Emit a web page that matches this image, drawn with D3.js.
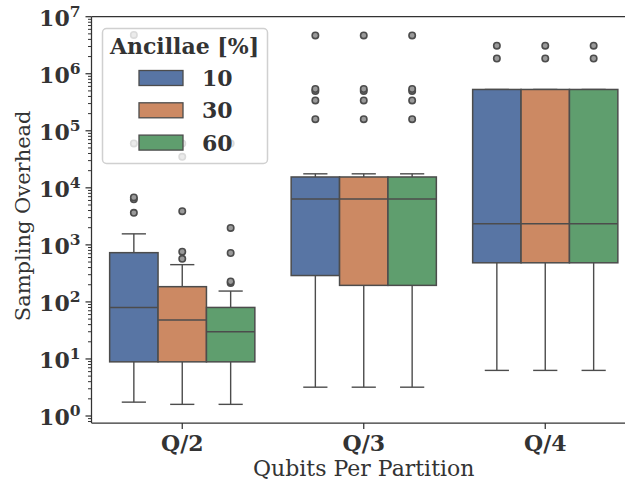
<!DOCTYPE html>
<html>
<head>
<meta charset="utf-8">
<script src="https://cdn.jsdelivr.net/npm/d3@7"></script>
<style>
  html, body { margin: 0; padding: 0; background: #fff; }
  svg { display: block; }
</style>
</head>
<body>
<svg id="chart" width="625" height="481"></svg>
<script>
// Partition sizes on the x axis and ancilla percentages as hue groups
const categories = ["Q/2", "Q/3", "Q/4"];
const ancillae = ["10", "30", "60"];
const palette = ["#5875a4", "#cc8963", "#5f9e6e"];

// Box statistics per category, one entry per ancilla group:
// [lower whisker, Q1, median, Q3, upper whisker]
const statsQ2 = [
  [1.75, 8.9, 80, 730, 1560],
  [1.6, 8.9, 48, 185, 450],
  [1.6, 8.9, 30, 80, 155]
];
const statsQ3 = [
  [3.2, 290, 6350, 15500, 17600],
  [3.2, 195, 6350, 15500, 17600],
  [3.2, 195, 6350, 15500, 17600]
];
const statsQ4 = [
  [6.3, 485, 2340, 530000, 530000],
  [6.3, 485, 2340, 530000, 530000],
  [6.3, 485, 2340, 530000, 530000]
];

// Outlying samples per category and group
const outliersQ2 = [
  [3650, 6300, 6800, 60000, 4800000],
  [570, 760, 3900, 35000, 60000],
  [215, 228, 720, 1980, 60000]
];
const outliersQ3 = [
  [160000, 340000, 500000, 540000, 4700000],
  [160000, 340000, 500000, 540000, 4700000],
  [160000, 340000, 500000, 540000, 4700000]
];
const outliersQ4 = [
  [1850000, 3100000],
  [1850000, 3100000],
  [1850000, 3100000]
];

const yTickExponents = [0, 1, 2, 3, 4, 5, 6, 7];
const xTitle = "Qubits Per Partition";
const yTitle = "Sampling Overhead";
const legendTitle = "Ancillae [%]";

const stats = [statsQ2, statsQ3, statsQ4];
const outliers = [outliersQ2, outliersQ3, outliersQ4];

const serif = "'DejaVu Serif', serif";
const ink = "#333333";
const lineGray = "#4c4c4c";

const svg = d3.select("#chart");
const plotLeft = 91.5, plotRight = 636, plotTop = 16.7, plotBottom = 423;

const x = d3.scaleBand().domain(categories).range([plotLeft, plotRight]);
const hue = d3.scaleBand().domain(ancillae).range([0, x.bandwidth() * 0.8]);
const groupOffset = x.bandwidth() * 0.1;
const y = d3.scaleLog().domain([Math.pow(10, -0.1227), 1e7]).range([plotBottom, plotTop]);

// Boxes, whiskers, medians, fliers
const g = svg.append("g");
categories.forEach((cat, ci) => {
  ancillae.forEach((anc, ai) => {
    const [lo, q1, med, q3, hi] = stats[ci][ai];
    const x0 = x(cat) + groupOffset + hue(anc);
    const w = hue.bandwidth();
    const cx = x0 + w / 2;
    const capW = w / 2;
    const grp = g.append("g");
    // whiskers
    grp.append("line").attr("x1", cx).attr("x2", cx).attr("y1", y(q1)).attr("y2", y(lo))
      .attr("stroke", lineGray).attr("stroke-width", 1.4);
    grp.append("line").attr("x1", cx).attr("x2", cx).attr("y1", y(q3)).attr("y2", y(hi))
      .attr("stroke", lineGray).attr("stroke-width", 1.4);
    grp.append("line").attr("x1", cx - capW / 2).attr("x2", cx + capW / 2).attr("y1", y(lo)).attr("y2", y(lo))
      .attr("stroke", lineGray).attr("stroke-width", 1.4);
    grp.append("line").attr("x1", cx - capW / 2).attr("x2", cx + capW / 2).attr("y1", y(hi)).attr("y2", y(hi))
      .attr("stroke", lineGray).attr("stroke-width", 1.4);
    // box
    grp.append("rect").attr("x", x0).attr("y", y(q3)).attr("width", w).attr("height", y(q1) - y(q3))
      .attr("fill", palette[ai]).attr("stroke", lineGray).attr("stroke-width", 1.5);
    // median
    grp.append("line").attr("x1", x0).attr("x2", x0 + w).attr("y1", y(med)).attr("y2", y(med))
      .attr("stroke", lineGray).attr("stroke-width", 1.5);
    // fliers
    grp.selectAll("circle").data(outliers[ci][ai]).join("circle")
      .attr("cx", cx).attr("cy", d => y(d)).attr("r", 3.2)
      .attr("fill", "#9a9a9a").attr("stroke", lineGray).attr("stroke-width", 1.6);
  });
});

// Spines
const spines = svg.append("g").attr("stroke", ink).attr("stroke-width", 1.25).attr("fill", "none");
spines.append("line").attr("x1", plotLeft).attr("x2", plotLeft).attr("y1", plotTop).attr("y2", plotBottom);
spines.append("line").attr("x1", plotLeft).attr("x2", plotRight).attr("y1", plotBottom).attr("y2", plotBottom);
spines.append("line").attr("x1", plotLeft).attr("x2", plotRight).attr("y1", plotTop).attr("y2", plotTop);
spines.append("line").attr("x1", plotRight).attr("x2", plotRight).attr("y1", plotTop).attr("y2", plotBottom);

// Y axis: major ticks with 10^n labels, minor ticks at 2..9 per decade
const yAxisG = svg.append("g");
const [dLo, dHi] = y.domain();
for (let e = -1; e <= 7; e++) {
  for (let m = 2; m <= 9; m++) {
    const v = m * Math.pow(10, e);
    if (v < dLo || v > dHi) continue;
    yAxisG.append("line").attr("x1", plotLeft).attr("x2", plotLeft - 3.5)
      .attr("y1", y(v)).attr("y2", y(v)).attr("stroke", ink).attr("stroke-width", 1);
  }
}
yTickExponents.forEach(e => {
  const v = Math.pow(10, e);
  const ty = y(v);
  yAxisG.append("line").attr("x1", plotLeft).attr("x2", plotLeft - 6)
    .attr("y1", ty).attr("y2", ty).attr("stroke", ink).attr("stroke-width", 1.25);
  const t = yAxisG.append("text")
    .attr("x", 80.5).attr("y", ty + 9)
    .attr("text-anchor", "end")
    .attr("font-family", serif).attr("font-weight", "bold").attr("fill", ink);
  t.append("tspan").attr("font-size", "22px").text("10");
  t.append("tspan").attr("font-size", "15.5px").attr("dy", -9).text(String(e));
});

// X axis ticks and labels
const xAxisG = svg.append("g");
categories.forEach(cat => {
  const cx = x(cat) + x.bandwidth() / 2;
  xAxisG.append("line").attr("x1", cx).attr("x2", cx).attr("y1", plotBottom).attr("y2", plotBottom + 6)
    .attr("stroke", ink).attr("stroke-width", 1.25);
  xAxisG.append("text").attr("x", cx).attr("y", 450.5)
    .attr("text-anchor", "middle").attr("font-family", serif).attr("font-weight", "bold")
    .attr("font-size", "22px").attr("fill", ink).text(cat);
});

// Axis titles
svg.append("text").attr("x", (plotLeft + plotRight) / 2).attr("y", 476)
  .attr("text-anchor", "middle").attr("font-family", serif).attr("font-size", "22px")
  .attr("fill", ink).text(xTitle);
svg.append("text").attr("transform", `translate(30,${(plotTop + plotBottom) / 2 - 4}) rotate(-90)`)
  .attr("text-anchor", "middle").attr("font-family", serif).attr("font-size", "21px")
  .attr("fill", ink).text(yTitle);

// Legend
const legend = svg.append("g");
legend.append("rect").attr("x", 102.5).attr("y", 28.5).attr("width", 165).attr("height", 135)
  .attr("rx", 4).attr("fill", "#ffffff").attr("fill-opacity", 0.8)
  .attr("stroke", "#d0d0d0").attr("stroke-width", 1.5);
legend.append("text").attr("x", 184.5).attr("y", 54)
  .attr("text-anchor", "middle").attr("font-family", serif).attr("font-weight", "bold")
  .attr("font-size", "22px").attr("fill", ink).text(legendTitle);
ancillae.forEach((anc, i) => {
  const cy = 78 + i * 32.3;
  legend.append("rect").attr("x", 139).attr("y", cy - 7.5).attr("width", 44).attr("height", 15)
    .attr("fill", palette[i]).attr("stroke", lineGray).attr("stroke-width", 1.3);
  legend.append("text").attr("x", 202).attr("y", cy + 8)
    .attr("font-family", serif).attr("font-weight", "bold").attr("font-size", "22px")
    .attr("fill", ink).text(anc);
});
</script>
</body>
</html>
